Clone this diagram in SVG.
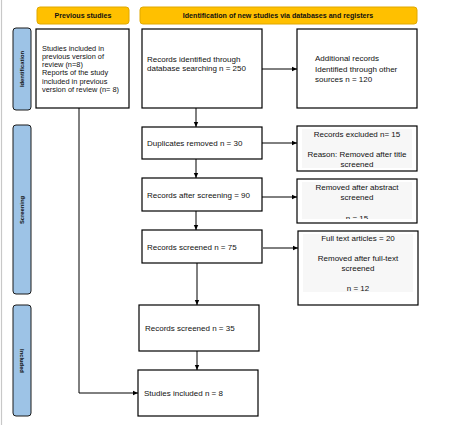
<svg xmlns="http://www.w3.org/2000/svg" width="471" height="425" viewBox="0 0 471 425">
<defs>
<style>
.box{fill:#fff;stroke:#000;stroke-width:1.2}
.hdr{fill:#FFC000;stroke:#E0A800;stroke-width:1}
.side{fill:#9DC3E6;stroke:#1a1a1a;stroke-width:1}
.inner{fill:#f7f7f7;stroke:none}
text{font-family:"Liberation Sans",Arial,sans-serif;fill:#111}
.p{font-size:7.4px}
.t{font-size:8px}
.tc{font-size:8px;text-anchor:middle}
.h{font-size:7.1px;font-weight:bold;text-anchor:middle}
.s{font-size:5.8px;font-weight:bold;text-anchor:middle}
.ln{fill:none;stroke:#000;stroke-width:1}
</style>
<marker id="ah" markerWidth="6" markerHeight="6" refX="5" refY="3" orient="auto" markerUnits="userSpaceOnUse">
<path d="M0,0.8 L5,3 L0,5.2 z" fill="#000"/>
</marker>
<clipPath id="clipAbs"><rect x="298" y="180" width="118" height="39"/></clipPath>
</defs>
<rect x="0" y="0" width="471" height="425" fill="#fff"/>
<line x1="1.5" y1="0" x2="1.5" y2="425" stroke="#c8c8c8" stroke-width="1.2"/>

<g id="hdr-prev"><rect class="hdr" x="37" y="7" width="92" height="17" rx="3"/><text class="h" x="83" y="18">Previous studies</text></g>
<g id="hdr-new"><rect class="hdr" x="140" y="7" width="277" height="17" rx="3"/><text class="h" x="278" y="18">Identification of new studies via databases and registers</text></g>

<g id="side-ident"><rect class="side" x="13" y="28" width="18" height="82" rx="3"/><text class="s" transform="translate(24,69) rotate(-90)">Identification</text></g>
<g id="side-screen"><rect class="side" x="13" y="125" width="18" height="169" rx="3"/><text class="s" transform="translate(24,210) rotate(-90)">Screening</text></g>
<g id="side-incl"><rect class="side" x="13" y="305" width="18" height="111" rx="3"/><text class="s" transform="translate(20,361) rotate(90)">Included</text></g>

<g id="prev"><rect class="box" x="36" y="29" width="93" height="79"/>
<text class="p" x="42" y="50.5">Studies included in</text>
<text class="p" x="42" y="58.5">previous version of</text>
<text class="p" x="42" y="66.5">review (n=8)</text>
<text class="p" x="42" y="75">Reports of the study</text>
<text class="p" x="42" y="83.5">included in previous</text>
<text class="p" x="42" y="92">version of review (n= 8)</text></g>

<g id="ident"><rect class="box" x="142" y="29" width="120" height="79"/>
<text class="t" x="147" y="62">Records identified through</text>
<text class="t" x="147" y="71">database searching n = 250</text></g>

<g id="additional"><rect class="box" x="297" y="29" width="120" height="79"/>
<text class="t" x="315" y="61">Additional records</text>
<text class="t" x="315" y="71.5">Identified through other</text>
<text class="t" x="315" y="82">sources n = 120</text></g>

<g id="dup"><rect class="box" x="142" y="127" width="120" height="32"/>
<text class="t" x="147" y="146">Duplicates removed n = 30</text></g>

<g id="excl"><rect class="box" x="297" y="126" width="120" height="45"/>
<rect class="inner" x="302" y="129" width="110" height="39"/>
<text class="tc" x="357" y="137">Records excluded n= 15</text>
<text class="tc" x="357" y="157">Reason: Removed after title</text>
<text class="tc" x="357" y="167">screened</text></g>

<g id="after"><rect class="box" x="142" y="178" width="120" height="33"/>
<text class="t" x="147" y="198">Records after screening = 90</text></g>

<g id="abstract"><rect class="box" x="297" y="179" width="120" height="44"/>
<rect class="inner" x="302" y="182" width="110" height="37"/>
<text class="tc" x="357" y="190">Removed after abstract</text>
<text class="tc" x="357" y="200">screened</text>
<text class="tc" x="357" y="221" clip-path="url(#clipAbs)">n = 15</text></g>

<g id="screened75"><rect class="box" x="142" y="230" width="120" height="33"/>
<text class="t" x="147" y="250">Records screened n = 75</text></g>

<g id="fulltext"><rect class="box" x="298" y="231" width="120" height="74"/>
<rect class="inner" x="303" y="234" width="110" height="58"/>
<text class="tc" x="358" y="241">Full text articles = 20</text>
<text class="tc" x="358" y="261">Removed after full-text</text>
<text class="tc" x="358" y="271">screened</text>
<text class="tc" x="358" y="291">n = 12</text></g>

<g id="screened35"><rect class="box" x="139" y="305" width="120" height="46"/>
<text class="t" x="145" y="331">Records screened n = 35</text></g>

<g id="included"><rect class="box" x="138" y="370" width="120" height="46"/>
<text class="t" x="144" y="396">Studies included n = 8</text></g>

<g id="connectors">
<line class="ln" x1="262" y1="69" x2="297" y2="69" marker-end="url(#ah)"/>
<line class="ln" x1="196" y1="108" x2="196" y2="127" marker-end="url(#ah)"/>
<line class="ln" x1="196" y1="159" x2="196" y2="178" marker-end="url(#ah)"/>
<line class="ln" x1="196" y1="211" x2="196" y2="230" marker-end="url(#ah)"/>
<line class="ln" x1="197" y1="263" x2="197" y2="305" marker-end="url(#ah)"/>
<line class="ln" x1="197" y1="351" x2="197" y2="370" marker-end="url(#ah)"/>
<line class="ln" x1="262" y1="143" x2="297" y2="143" marker-end="url(#ah)"/>
<line class="ln" x1="262" y1="197" x2="297" y2="197" marker-end="url(#ah)"/>
<line class="ln" x1="263" y1="248" x2="298" y2="248" marker-end="url(#ah)"/>
<polyline class="ln" points="79,108 79,393 138,393" marker-end="url(#ah)"/>
</g>
</svg>
